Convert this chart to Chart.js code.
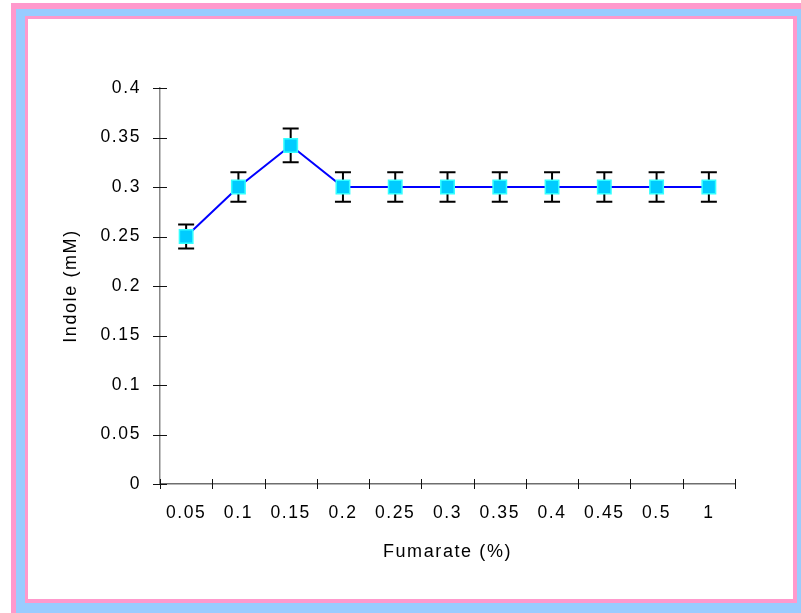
<!DOCTYPE html>
<html>
<head>
<meta charset="utf-8">
<script src="https://cdn.jsdelivr.net/npm/chart.js@4"></script>
<style>
  html, body { margin: 0; padding: 0; background: #fff; overflow: hidden; }
  .frame { position: absolute; }
  #f1 { left: 11px; top: 3px; width: 900px; height: 700px; background: #ff99cc; }
  #f2 { left: 16px; top: 9px; width: 900px; height: 700px; background: #99ccff; }
  #f3 { left: 25px; top: 16px; width: 772px; height: 587px; background: #ff99cc; }
  #f4 { left: 28px; top: 19px; width: 765px; height: 580px; background: #fff; }
  #graf { position: absolute; left: 0; top: 0; }
</style>
</head>
<body>
<div class="frame" id="f1"></div>
<div class="frame" id="f2"></div>
<div class="frame" id="f3"></div>
<div class="frame" id="f4"></div>
<canvas id="graf" width="801" height="613"></canvas>
<script>
// ---------- dados ----------
const fumarato = ["0.05", "0.1", "0.15", "0.2", "0.25", "0.3", "0.35", "0.4", "0.45", "0.5", "1"];
const indol = [0.25, 0.30, 0.342, 0.30, 0.30, 0.30, 0.30, 0.30, 0.30, 0.30, 0.30];
const erro = [0.012, 0.015, 0.017, 0.015, 0.015, 0.015, 0.015, 0.015, 0.015, 0.015, 0.015];

const FONTE = "Liberation Sans, Arial, sans-serif";
const ESPACO = "1.6px";

// ---------- plugins ----------
// o canvas perde o estado quando é redimensionado, então reaplica sempre
const espacamento = {
  id: "espacamento",
  beforeUpdate(chart) { chart.ctx.letterSpacing = ESPACO; },
  beforeLayout(chart) { chart.ctx.letterSpacing = ESPACO; },
  beforeDraw(chart) { chart.ctx.letterSpacing = ESPACO; },
};

const barrasErro = {
  id: "barrasErro",
  beforeDatasetsDraw(chart) {
    const { ctx, scales } = chart;
    const x = scales.x, y = scales.y;
    ctx.save();
    ctx.strokeStyle = "#000";
    ctx.lineWidth = 2;
    indol.forEach((v, i) => {
      const px = x.getPixelForValue(i);
      const top = y.getPixelForValue(v + erro[i]);
      const bot = y.getPixelForValue(v - erro[i]);
      ctx.beginPath();
      ctx.moveTo(px, top);
      ctx.lineTo(px, bot);
      ctx.moveTo(px - 8, top);
      ctx.lineTo(px + 8, top);
      ctx.moveTo(px - 8, bot);
      ctx.lineTo(px + 8, bot);
      ctx.stroke();
    });
    ctx.restore();
  },
};

// ticks que cruzam o eixo (estilo Excel)
const ticksCruzados = {
  id: "ticksCruzados",
  afterDraw(chart) {
    const { ctx, scales, chartArea } = chart;
    ctx.save();
    ctx.strokeStyle = "#111";
    ctx.lineWidth = 1;
    scales.y.ticks.forEach((t, i) => {
      const py = Math.round(scales.y.getPixelForTick(i)) + 0.5;
      ctx.beginPath();
      ctx.moveTo(chartArea.left - 7, py);
      ctx.lineTo(chartArea.left + 7, py);
      ctx.stroke();
    });
    const passo = (chartArea.right - chartArea.left) / fumarato.length;
    for (let k = 0; k <= fumarato.length; k++) {
      const px = Math.round(chartArea.left + k * passo) + 0.5;
      ctx.beginPath();
      ctx.moveTo(px, chartArea.bottom - 5);
      ctx.lineTo(px, chartArea.bottom + 5);
      ctx.stroke();
    }
    ctx.restore();
  },
};

// ---------- gráfico ----------
const canvas = document.getElementById("graf");
new Chart(canvas, {
  type: "line",
  data: {
    labels: fumarato,
    datasets: [{
      data: indol,
      borderColor: "#0000ff",
      borderWidth: 2,
      pointStyle: "rect",
      pointRadius: 9.5,
      pointBackgroundColor: "#00ccff",
      pointBorderColor: "#33ffff",
      pointBorderWidth: 1.5,
      tension: 0,
    }],
  },
  options: {
    responsive: false,
    animation: false,
    devicePixelRatio: 1,
    layout: { padding: { left: 0, top: 88, right: 66, bottom: 0 } },
    plugins: { legend: { display: false }, tooltip: { enabled: false } },
    scales: {
      x: {
        type: "category",
        offset: true,
        grid: { display: true, drawOnChartArea: false, drawTicks: false, offset: true },
        border: { color: "#6e6e6e", width: 1.5 },
        ticks: { color: "#000", font: { family: FONTE, size: 17.5 }, padding: 19, maxRotation: 0, autoSkip: false },
        title: { display: true, text: "Fumarate (%)", color: "#000", font: { family: FONTE, size: 18 }, padding: { top: 0, bottom: 50 } },
        afterFit(scale) { scale.height = 613 - 484; },
      },
      y: {
        min: 0,
        max: 0.4,
        grid: { display: true, drawOnChartArea: false, drawTicks: false },
        border: { color: "#888", width: 1.5 },
        ticks: {
          stepSize: 0.05,
          color: "#000",
          font: { family: FONTE, size: 17.5 },
          padding: 19,
          callback: (v) => String(+v.toFixed(2)),
        },
        title: { display: true, text: "Indole (mM)", color: "#000", font: { family: FONTE, size: 18 }, padding: { top: 60, bottom: 0 } },
        afterFit(scale) { scale.width = 160; },
      },
    },
  },
  plugins: [espacamento, barrasErro, ticksCruzados],
});
</script>
</body>
</html>
